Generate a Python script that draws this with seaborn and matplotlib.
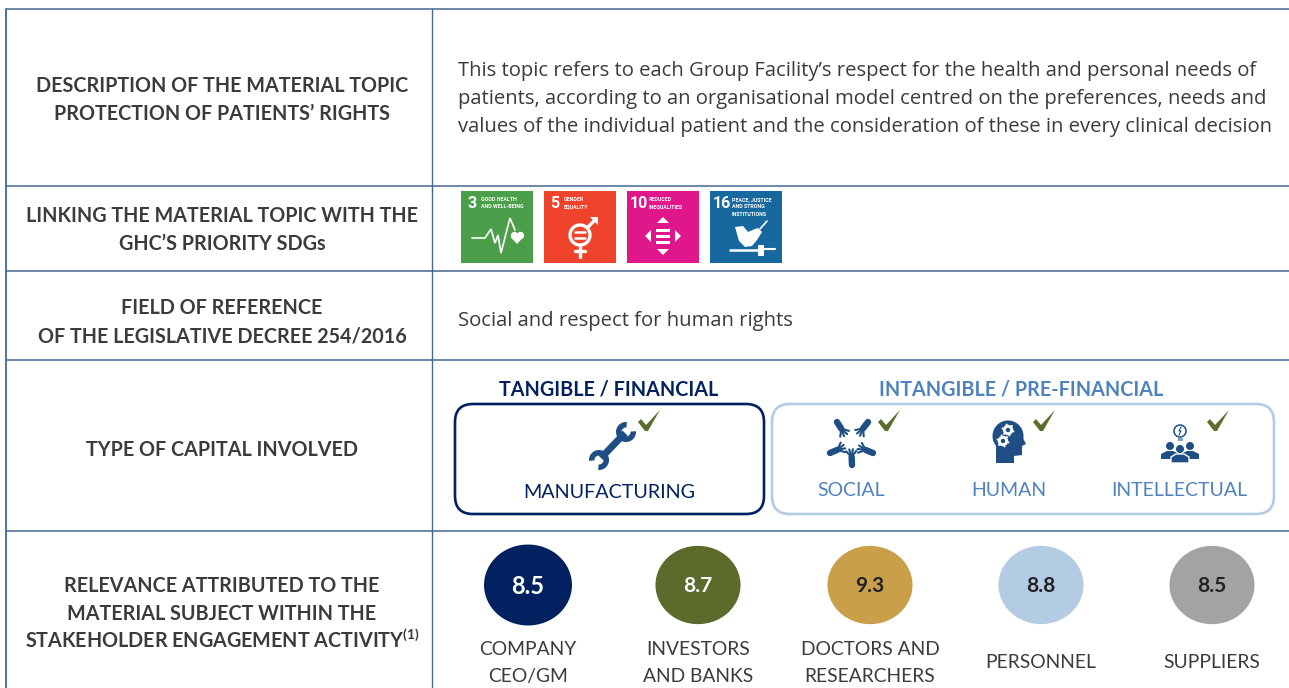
import numpy as np
import pandas as pd
import matplotlib.pyplot as plt
import seaborn as sns
from matplotlib.patches import FancyBboxPatch, Rectangle, Circle, Polygon, Wedge
from matplotlib.path import Path
from matplotlib.transforms import Affine2D

# table text
row_titles = [
    "DESCRIPTION OF THE MATERIAL TOPIC\nPROTECTION OF PATIENTS’ RIGHTS",
    "LINKING THE MATERIAL TOPIC WITH THE\nGHC’S PRIORITY SDGs",
    "FIELD OF REFERENCE\nOF THE LEGISLATIVE DECREE 254/2016",
    "TYPE OF CAPITAL INVOLVED",
]
relevance_lines = [
    "RELEVANCE ATTRIBUTED TO THE",
    "MATERIAL SUBJECT WITHIN THE",
    "STAKEHOLDER ENGAGEMENT ACTIVITY$^{\\mathregular{(1)}}$",
]
description = [
    "This topic refers to each Group Facility’s respect for the health and personal needs of",
    "patients, according to an organisational model centred on the preferences, needs and",
    "values of the individual patient and the consideration of these in every clinical decision",
]
field_text = "Social and respect for human rights"

# sdg tiles
sdg_numbers = ["3", "5", "10", "16"]
sdg_labels = ["GOOD HEALTH\nAND WELL-BEING", "GENDER\nEQUALITY", "REDUCED\nINEQUALITIES", "PEACE, JUSTICE\nAND STRONG\nINSTITUTIONS"]

# stakeholder scores
stakeholders = ["COMPANY\nCEO/GM", "INVESTORS\nAND BANKS", "DOCTORS AND\nRESEARCHERS", "PERSONNEL", "SUPPLIERS"]
scores = [8.5, 8.7, 9.3, 8.8, 8.5]

# colours
NAVY = "#002060"
LIGHT = "#b4cbe4"
MID = "#4f81bd"
ICON = "#1f4e85"
GREEN = "#5b6f2d"
DARK = "#3b3b3b"
LINE = "#44688f"
sdg_colors = ["#4c9f4a", "#f0432b", "#e0168b", "#16689e"]
score_colors = [NAVY, "#5b6b2b", "#c99f4a", "#b4cbe4", "#a3a3a3"]
score_text = ["white", "white", "#222222", "#222222", "#222222"]

sns.set_theme(style="white")
plt.rcParams["font.family"] = ["Lato", "DejaVu Sans"]

fig = plt.figure(figsize=(12.89, 6.88), dpi=100)
ax = fig.add_axes([0, 0, 1, 1])

# grid of the table
for y in [9, 186, 271, 360, 531]:
    ax.plot([6, 1289], [y, y], color=LINE, lw=1.1, solid_capstyle="butt")
ax.plot([6, 6], [9, 688], color=LINE, lw=1.3)
ax.plot([432, 432], [9, 688], color=LINE, lw=1.0)

# left column
title_y = [100, 230, 322, 450]
for t, y in zip(row_titles, title_y):
    ax.text(222, y, t, ha="center", va="center", fontsize=14.2, fontweight="bold", color=DARK, linespacing=1.56)
for t, y in zip(relevance_lines, [592, 620, 648]):
    ax.text(222, y, t, ha="center", va="baseline", fontsize=14.2, fontweight="bold", color=DARK)

# right column text
for line, y in zip(description, [71, 99, 127]):
    ax.text(458, y, line, ha="left", va="center", fontsize=14.6, color=DARK, family="Open Sans")
ax.text(458, 321, field_text, ha="left", va="center", fontsize=14.6, color=DARK, family="Open Sans")

# sdg tiles
tile_x = [461, 544, 627, 710]
for i, x in enumerate(tile_x):
    ax.add_patch(Rectangle((x, 191), 72, 72, color=sdg_colors[i], lw=0))
    two_digits = len(sdg_numbers[i]) == 2
    ax.text(x + (3 if two_digits else 6), 204, sdg_numbers[i], color="white", fontsize=11.5, fontweight="bold",
            va="center", ha="left", family="Roboto")
    ax.text(x + (22 if two_digits else 20), 197, sdg_labels[i], color="white", fontsize=3.8, fontweight="bold",
            va="top", ha="left", family="Roboto", linespacing=1.6)

# sdg 3 pulse and heart
x0 = tile_x[0]
ax.plot(np.array([11, 24, 30, 34, 37, 40, 49, 54]) + x0, [238, 238, 229, 243, 235, 253, 218, 230],
        color="white", lw=1.2, solid_joinstyle="miter")
ax.scatter([x0 + 53, x0 + 59], [235, 235], s=28, color="white", lw=0, zorder=3)
ax.add_patch(Polygon([[x0 + 49.5, 237], [x0 + 62.5, 237], [x0 + 56, 244]], color="white", lw=0))
# sdg 5 gender symbol
x0 = tile_x[1]
ax.add_patch(Circle((x0 + 36, 235), 10, fill=False, ec="white", lw=2.4))
ax.plot([x0 + 36, x0 + 36], [245, 257], color="white", lw=2.4)
ax.plot([x0 + 31, x0 + 41], [251, 251], color="white", lw=2.4)
ax.plot([x0 + 43, x0 + 52], [228, 219], color="white", lw=2.4)
ax.add_patch(Polygon([[x0 + 46, 217], [x0 + 54, 217], [x0 + 54, 225]], color="white", lw=0))
ax.plot([x0 + 31, x0 + 41], [232, 232], color="white", lw=1.8)
ax.plot([x0 + 31, x0 + 41], [238, 238], color="white", lw=1.8)
# sdg 10 arrows
x0 = tile_x[2]
for y in [230, 236, 242]:
    ax.add_patch(Rectangle((x0 + 29, y - 1), 14, 3, color="white", lw=0))
ax.add_patch(Polygon([[x0 + 30, 223], [x0 + 42, 223], [x0 + 36, 217]], color="white", lw=0))
ax.add_patch(Polygon([[x0 + 30, 249], [x0 + 42, 249], [x0 + 36, 255]], color="white", lw=0))
ax.add_patch(Polygon([[x0 + 24, 230], [x0 + 24, 242], [x0 + 18, 236]], color="white", lw=0))
ax.add_patch(Polygon([[x0 + 48, 230], [x0 + 48, 242], [x0 + 54, 236]], color="white", lw=0))
# sdg 16 dove and gavel
x0 = tile_x[3]
ax.add_patch(Polygon([[x0 + 25, 227], [x0 + 33, 226], [x0 + 38, 232], [x0 + 45, 229], [x0 + 48, 228], [x0 + 52, 232],
                      [x0 + 47, 240], [x0 + 42, 246], [x0 + 35, 247], [x0 + 29, 241]], color="white", lw=0))
ax.plot([x0 + 50, x0 + 57], [229, 221], color="white", lw=1.2)
ax.plot([x0 + 20, x0 + 47], [250, 250], color="white", lw=1.8)
ax.add_patch(Rectangle((x0 + 48, 245), 6, 11, color="white", lw=0))
ax.plot([x0 + 54, x0 + 65], [249, 249], color="white", lw=1.5)

# capital boxes
ax.text(609, 389, "TANGIBLE / FINANCIAL", ha="center", va="center", fontsize=14.2, fontweight="bold", color=NAVY)
ax.text(1021, 389, "INTANGIBLE / PRE-FINANCIAL", ha="center", va="center", fontsize=14.2, fontweight="bold", color=MID)
ax.add_patch(FancyBboxPatch((455, 404), 309, 110, boxstyle="round,pad=0,rounding_size=18",
                            fill=False, ec=NAVY, lw=1.9))
ax.add_patch(FancyBboxPatch((772, 404), 502, 110, boxstyle="round,pad=0,rounding_size=18",
                            fill=False, ec=LIGHT, lw=1.9))

ax.text(609, 492, "MANUFACTURING", ha="center", va="center", fontsize=14.2, color=NAVY)
for name, x in zip(["SOCIAL", "HUMAN", "INTELLECTUAL"], [851, 1009, 1179]):
    ax.text(x, 491, name, ha="center", va="center", fontsize=14, color=MID)

# tick marks
for x in [638, 878, 1033, 1207]:
    ax.add_patch(Polygon([[x, 422], [x + 3, 419], [x + 8, 425], [x + 22, 410], [x + 10, 431], [x + 7, 431]],
                         color=GREEN, lw=0))

# wrench
ax.plot([601, 625], [458, 433], color=ICON, lw=5, solid_capstyle="butt")
ax.add_patch(Wedge((626, 432), 10, -5, 275, width=5.5, color=ICON, lw=0))
ax.add_patch(Wedge((599, 460), 10, 175, 455, width=5.5, color=ICON, lw=0))

# social icon, five hands pointing to the centre
cx, cy = 851, 444
for px, py in [(837, 422), (868, 422), (873, 453), (852, 465), (830, 453)]:
    u = np.array([cx - px, cy - py], dtype=float)
    u = u / np.hypot(*u)
    palm = np.array([px, py]) + u * 8
    ax.plot([px, palm[0]], [py, palm[1]], color=ICON, lw=4.6, solid_capstyle="round")
    for d in [-42, -15, 12, 40]:
        r = np.deg2rad(d)
        f = np.array([u[0] * np.cos(r) - u[1] * np.sin(r), u[0] * np.sin(r) + u[1] * np.cos(r)])
        ax.plot([palm[0], palm[0] + f[0] * 8], [palm[1], palm[1] + f[1] * 8], color=ICON, lw=1.5)

# human icon, head with gears
ax.add_patch(Circle((1008, 436), 15.5, color=ICON, lw=0))
ax.add_patch(Polygon([[996, 444], [996, 463], [1014, 463], [1014, 456], [1022, 455], [1022, 446], [1026, 444], [1022, 436], [1010, 434]],
                     color=ICON, lw=0))
for x, y in [(1008, 430), (1003, 441)]:
    ax.add_patch(Circle((x, y), 5.2, color="white", lw=0))
    ax.add_patch(Circle((x, y), 2.2, color=ICON, lw=0))
    for a in np.deg2rad(np.arange(0, 360, 60) + 15):
        ax.add_patch(Circle((x + 5.6 * np.cos(a), y + 5.6 * np.sin(a)), 1.0, color="white", lw=0))

# intellectual icon, bulb and three people
ax.add_patch(Circle((1180, 431), 6, fill=False, ec=ICON, lw=1.1))
ax.add_patch(Rectangle((1177.5, 438), 5, 3, color="#7f9fc4", lw=0))
ax.plot([1181, 1179, 1181, 1179], [427, 431, 431, 435], color=ICON, lw=0.8)
for x, y, r in [(1170, 446, 4), (1190, 446, 4), (1180, 449, 4)]:
    ax.add_patch(Circle((x, y), r, color=ICON, lw=0))
for x, w, top, bot in [(1170, 9, 451, 459), (1190, 9, 451, 459)]:
    ax.add_patch(Polygon([[x - w, bot], [x - w, top + 3], [x - 3, top], [x + 3, top], [x + w, top + 3], [x + w, bot]], color=ICON, lw=0))
ax.add_patch(Polygon([[1171, 463], [1171, 457], [1176, 454], [1184, 454], [1189, 457], [1189, 463]], color=ICON, ec="white", lw=1))

# stakeholder circles
ellipse = Path.unit_circle().transformed(Affine2D().scale(88 / 81, 1))
score_x = [528, 698, 870, 1041, 1212]
score_df = pd.DataFrame({"x": score_x, "y": [585] * 5, "who": stakeholders, "score": scores})
sns.scatterplot(data=score_df, x="x", y="y", hue="who", palette=score_colors, size="who",
                sizes=dict(zip(stakeholders, [4010, 3750, 3750, 3750, 3750])),
                marker=ellipse, linewidth=0, legend=False, ax=ax, zorder=3)
for x, s, c in zip(score_x, scores, score_text):
    size = 17 if x == score_x[0] else 15
    ax.text(x, 586, f"{s}", ha="center", va="center", fontsize=size, fontweight="bold", color=c, zorder=4)

for x, s in zip(score_x, stakeholders):
    ax.text(x, 663, s, ha="center", va="center", fontsize=13.9, color=DARK, linespacing=1.68, clip_on=False)

ax.set_xlim(0, 1289)
ax.set_ylim(688, 0)
ax.set_xlabel("")
ax.set_ylabel("")
ax.axis("off")
fig.savefig("out.png", dpi=100, facecolor="white")
